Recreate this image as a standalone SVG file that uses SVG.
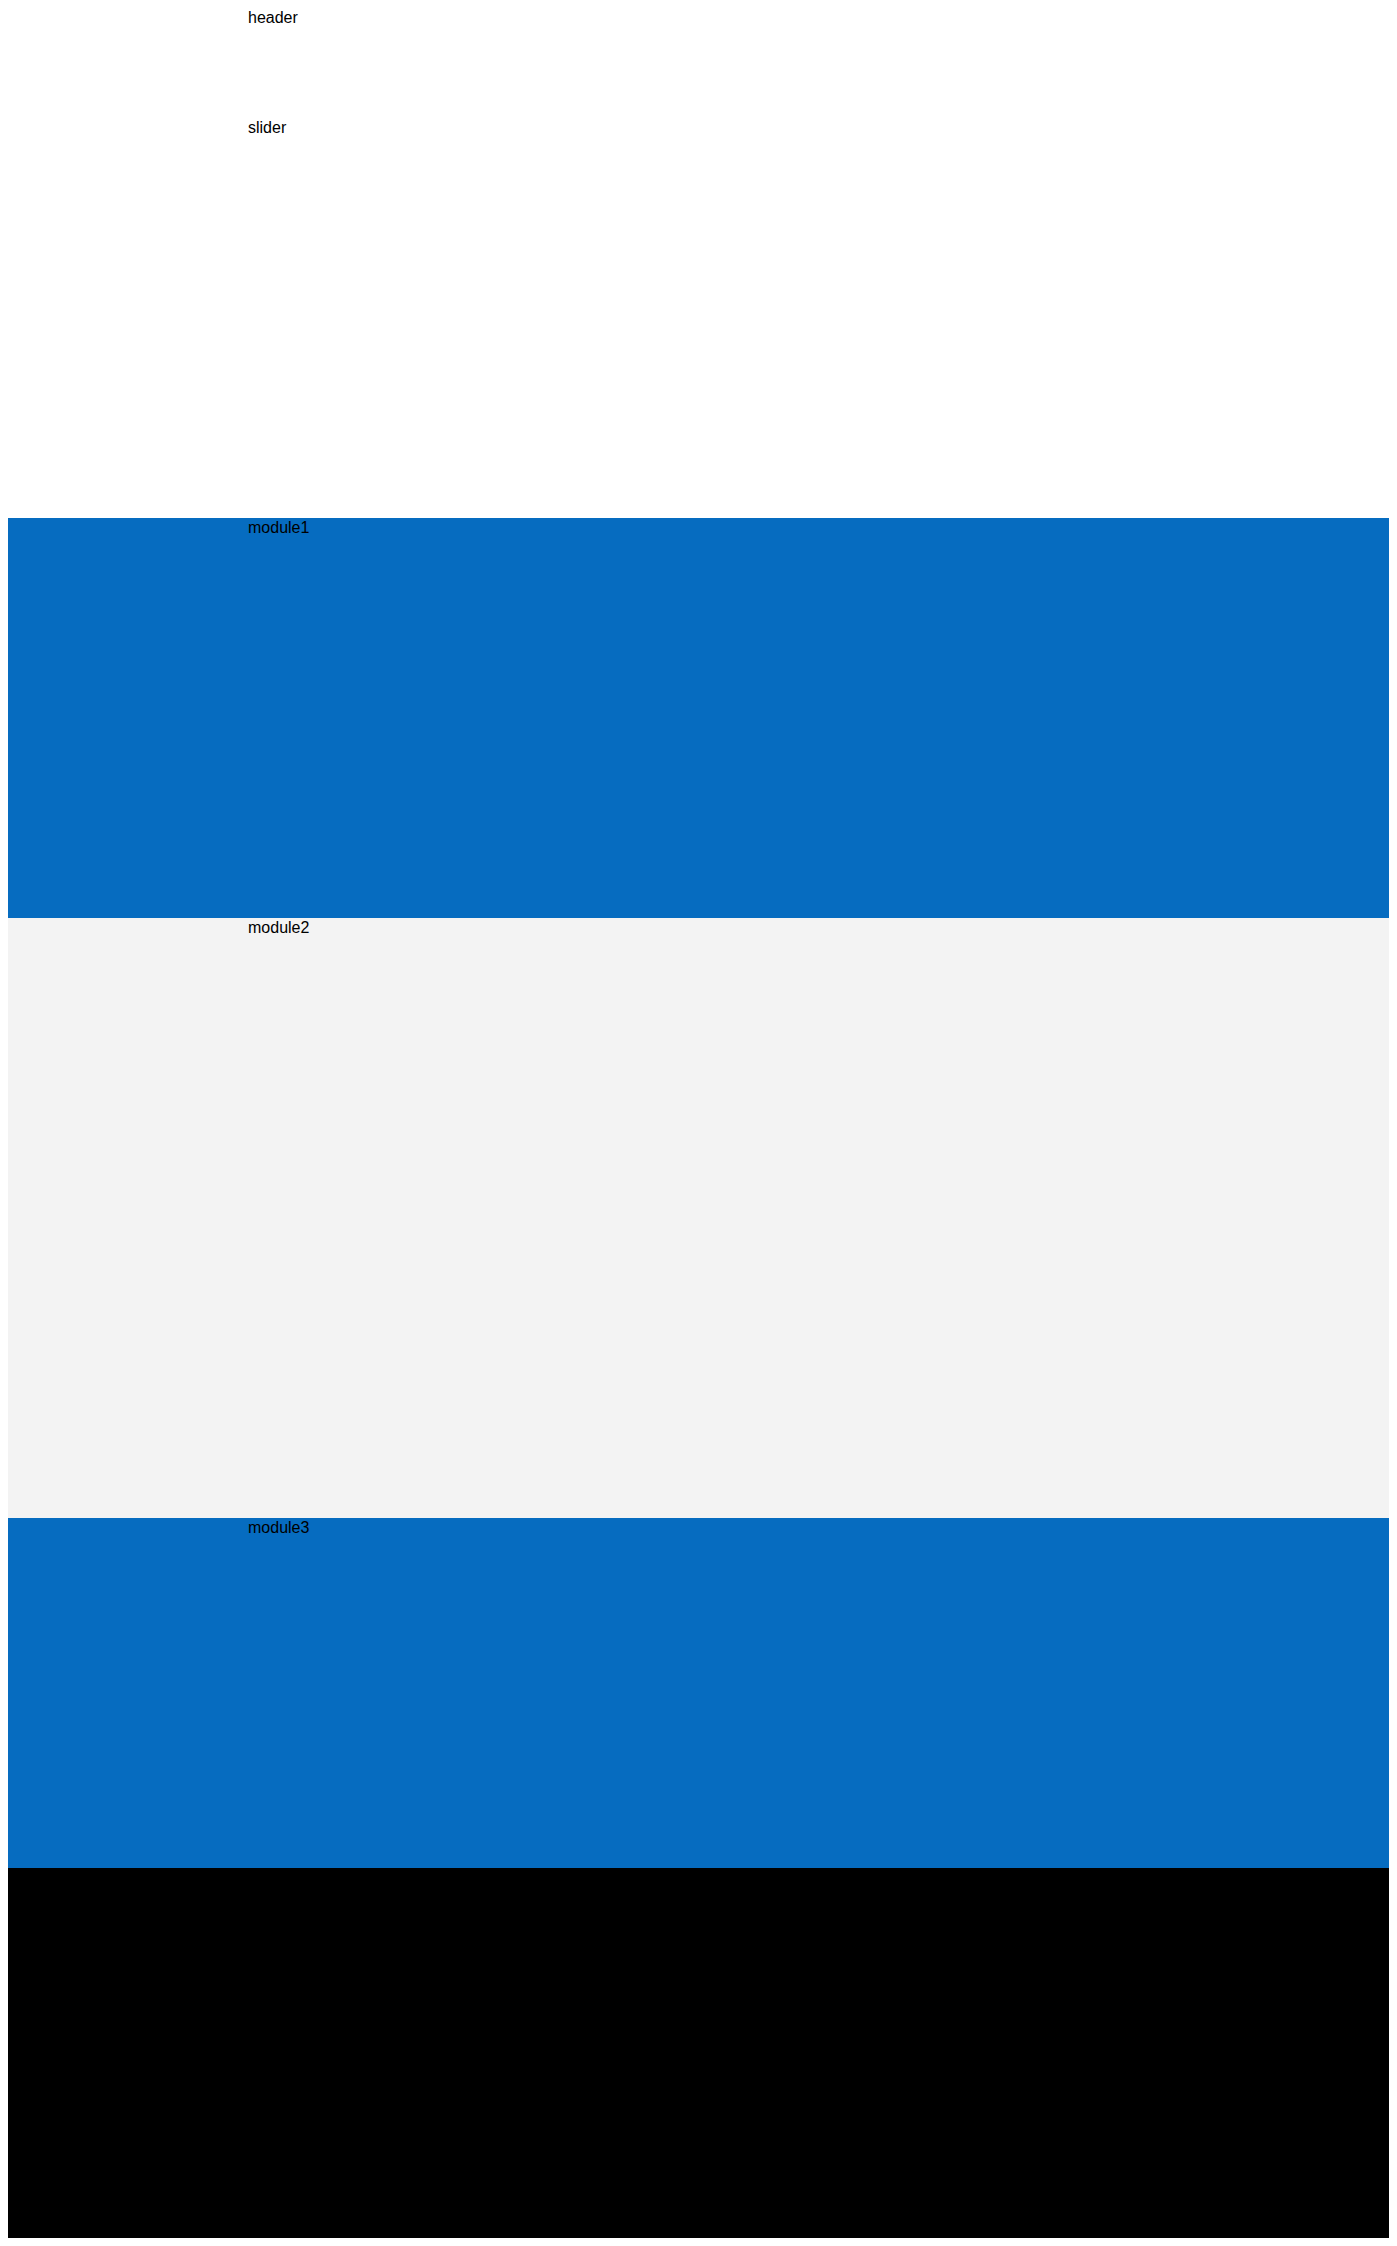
<svg xmlns="http://www.w3.org/2000/svg" width="1397" height="2246" viewBox="0 0 1397 2246">
<style>
.lbl{font-family:"Liberation Sans",Arial,sans-serif;font-size:16px;fill:#000}
.blue{fill:#066cc0}
</style>
<rect x="0" y="0" width="1397" height="2246" fill="#ffffff"/>
<g id="header"><rect x="8" y="8" width="1381" height="110" fill="#ffffff"/><text class="lbl" x="248" y="23">header</text></g>
<g id="slider"><rect x="8" y="118" width="1381" height="400" fill="#ffffff"/><text class="lbl" x="248" y="133">slider</text></g>
<g id="module1"><rect class="blue" x="8" y="518" width="1381" height="400"/><text class="lbl" x="248" y="533">module1</text></g>
<g id="module2"><rect x="8" y="918" width="1381" height="600" fill="#f3f3f3"/><text class="lbl" x="248" y="933">module2</text></g>
<g id="module3"><rect class="blue" x="8" y="1518" width="1381" height="350"/><text class="lbl" x="248" y="1533">module3</text></g>
<g id="footer"><rect x="8" y="1868" width="1381" height="370" fill="#000000"/></g>
<g id="connectors"></g>
</svg>
